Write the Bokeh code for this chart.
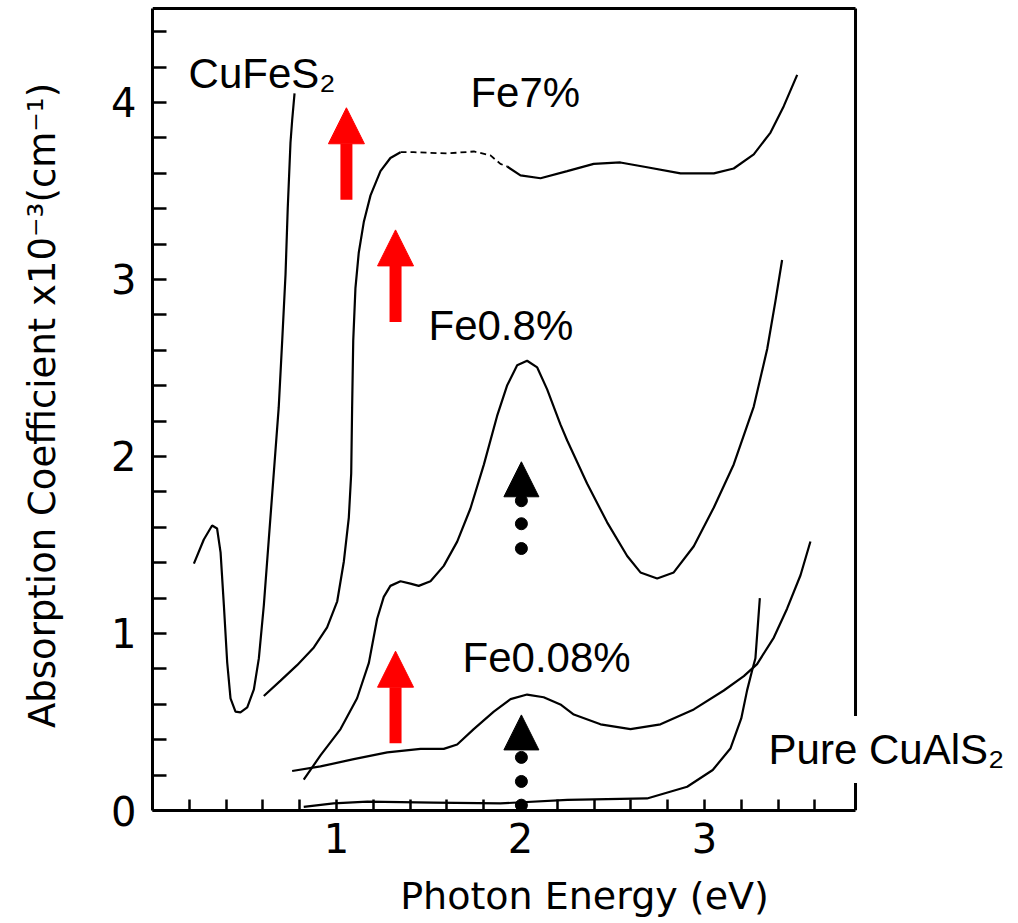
from bokeh.plotting import figure
from bokeh.models import Range1d, FixedTicker, Label, Arrow, NormalHead
from bokeh.embed import file_html
from bokeh.resources import INLINE

# ---- data ----
cufes2_x = [0.225, 0.279, 0.324, 0.351, 0.370, 0.388, 0.406, 0.424, 0.451, 0.478, 0.515, 0.551,
            0.578, 0.605, 0.632, 0.659, 0.686, 0.705, 0.723, 0.735, 0.750, 0.759, 0.772]
cufes2_y = [1.395, 1.531, 1.610, 1.593, 1.458, 1.158, 0.836, 0.633, 0.559, 0.554, 0.582, 0.684,
            0.859, 1.158, 1.531, 1.904, 2.277, 2.655, 3.028, 3.401, 3.774, 3.898, 4.051]

fe7_x = [0.605, 0.696, 0.786, 0.877, 0.949, 1.004, 1.040, 1.067, 1.080, 1.085, 1.091, 1.103,
         1.121, 1.149, 1.185, 1.239, 1.293, 1.348]
fe7_y = [0.647, 0.734, 0.821, 0.921, 1.034, 1.182, 1.407, 1.655, 1.904, 2.277, 2.653, 2.951,
         3.151, 3.328, 3.475, 3.612, 3.686, 3.719]
fe7_dash_x = [1.348, 1.420, 1.601, 1.747, 1.837, 1.891, 1.928]
fe7_dash_y = [3.719, 3.719, 3.712, 3.723, 3.701, 3.653, 3.638]
fe7_hi_x = [1.928, 2.0, 2.109, 2.254, 2.398, 2.543, 2.688, 2.870, 3.051, 3.159, 3.268, 3.359, 3.431, 3.504]
fe7_hi_y = [3.638, 3.588, 3.572, 3.612, 3.653, 3.661, 3.634, 3.599, 3.599, 3.627, 3.707, 3.830, 3.979, 4.156]

fe08_x = [0.822, 0.913, 1.022, 1.112, 1.176, 1.221, 1.257, 1.293, 1.348, 1.402, 1.447, 1.511,
          1.583, 1.656, 1.728, 1.801, 1.873, 1.928, 1.982, 2.036, 2.091, 2.145, 2.217, 2.254,
          2.362, 2.471, 2.580, 2.652, 2.743, 2.833, 2.942, 3.051, 3.159, 3.268, 3.341, 3.386, 3.422]
fe08_y = [0.175, 0.311, 0.460, 0.634, 0.834, 1.083, 1.207, 1.269, 1.295, 1.282, 1.269, 1.295,
          1.382, 1.519, 1.706, 1.954, 2.229, 2.403, 2.515, 2.541, 2.503, 2.379, 2.181, 2.090,
          1.847, 1.628, 1.438, 1.345, 1.311, 1.345, 1.493, 1.712, 1.955, 2.282, 2.607, 2.879, 3.110]

fe008_x = [0.759, 0.913, 1.094, 1.276, 1.457, 1.583, 1.656, 1.746, 1.855, 1.946, 2.036, 2.126,
           2.217, 2.290, 2.435, 2.598, 2.761, 2.942, 3.105, 3.214, 3.286, 3.377, 3.449, 3.522, 3.576]
fe008_y = [0.223, 0.249, 0.290, 0.328, 0.348, 0.348, 0.373, 0.460, 0.559, 0.629, 0.655, 0.640,
           0.599, 0.542, 0.487, 0.460, 0.487, 0.571, 0.678, 0.759, 0.827, 0.977, 1.140, 1.329, 1.520]

pure_x = [0.822, 0.984, 1.168, 1.527, 1.891, 2.255, 2.688, 2.906, 3.045, 3.141, 3.200, 3.232,
          3.259, 3.277, 3.301]
pure_y = [0.02, 0.04, 0.05, 0.045, 0.04, 0.06, 0.068, 0.134, 0.229, 0.350, 0.52, 0.68,
          0.791, 0.86, 1.20]

x_major = [1, 2, 3]
x_minor = [0.2, 0.4, 0.6, 0.8, 1.2, 1.4, 1.6, 1.8, 2.2, 2.4, 2.6, 2.8, 3.2, 3.4, 3.6]
y_major = [0, 1, 2, 3, 4]
y_minor = [0.2, 0.4, 0.6, 0.8, 1.2, 1.4, 1.6, 1.8, 2.2, 2.4, 2.6, 2.8, 3.2, 3.4, 3.6, 3.8, 4.2, 4.4]

# plotted box (the drawn frame of the original figure)
box_x = [0, 3.821]
box_y = [0, 4.531]

# annotations
red_arrow_x = [1.054, 1.321, 1.321]
red_arrow_tail = [3.45, 2.76, 0.38]
red_arrow_tip = [3.97, 3.28, 0.90]
black_arrow_x = [2.005, 2.005]
black_arrow_tip = [1.97, 0.54]
black_arrow_base = [1.80, 0.345]
dots_x = [2.005, 2.005, 2.005, 2.005, 2.005, 2.005]
dots_y = [1.75, 1.62, 1.48, 0.30, 0.164, 0.03]

labels = ["CuFeS\u2082", "Fe7%", "Fe0.8%", "Fe0.08%"]
labels_x = [0.196, 1.728, 1.500, 1.685]
labels_y = [4.164, 4.056, 2.740, 0.864]

# ---- figure ----
p = figure(width=1016, height=920, output_backend="svg", toolbar_location=None,
           x_range=Range1d(0, 4.696), y_range=Range1d(0, 4.576),
           min_border_left=152, min_border_right=0, min_border_top=0, min_border_bottom=110,
           background_fill_color="white", border_fill_color="white")
p.grid.visible = False
p.outline_line_color = None

p.xaxis.ticker = FixedTicker(ticks=x_major, minor_ticks=x_minor)
p.yaxis.ticker = FixedTicker(ticks=y_major, minor_ticks=y_minor)
p.xaxis.bounds = (box_x[0], box_x[1])
p.yaxis.bounds = (box_y[0], box_y[1])
for ax in (p.xaxis[0], p.yaxis[0]):
    ax.axis_line_color = "black"
    ax.axis_line_width = 3
    ax.major_tick_line_color = "black"
    ax.minor_tick_line_color = "black"
    ax.major_tick_line_width = 2.5
    ax.minor_tick_line_width = 2.5
    ax.major_tick_out = 0
    ax.minor_tick_out = 0
    ax.major_label_text_font = "DejaVu Sans"
    ax.major_label_text_font_size = "40px"
    ax.major_label_text_color = "black"
    ax.axis_label_text_font = "DejaVu Sans"
    ax.axis_label_text_font_style = "normal"
    ax.axis_label_text_color = "black"

p.yaxis.major_tick_in = 14
p.yaxis.minor_tick_in = 14
p.xaxis.major_tick_in = 11
p.xaxis.minor_tick_in = 11
p.yaxis.major_label_standoff = 16
p.xaxis.major_label_standoff = 12
p.yaxis.axis_label = "Absorption Coefficient x10\u207b\u00b3(cm\u207b\u00b9)"
p.yaxis.axis_label_text_font_size = "37px"
p.yaxis.axis_label_standoff = 44
p.xaxis.axis_label = "Photon Energy (eV)"
p.xaxis.axis_label_text_font_size = "38px"
p.xaxis.axis_label_standoff = 18

# frame top and right edges
p.segment(x0=[box_x[0], box_x[1]], y0=[box_y[1], box_y[0]],
          x1=[box_x[1], box_x[1]], y1=[box_y[1], box_y[1]],
          line_color="black", line_width=3)

# ---- curves ----
lw = 2.2
p.line(cufes2_x, cufes2_y, line_color="black", line_width=lw)
p.line(fe7_x, fe7_y, line_color="black", line_width=lw)
p.line(fe7_dash_x, fe7_dash_y, line_color="black", line_width=1.8, line_dash="6 4")
p.line(fe7_hi_x, fe7_hi_y, line_color="black", line_width=lw)
p.line(fe08_x, fe08_y, line_color="black", line_width=lw)
p.line(fe008_x, fe008_y, line_color="black", line_width=lw)
p.line(pure_x, pure_y, line_color="black", line_width=lw)

# ---- arrows ----
for xa, y0, y1 in zip(red_arrow_x, red_arrow_tail, red_arrow_tip):
    p.add_layout(Arrow(x_start=xa, y_start=y0, x_end=xa, y_end=y1,
                       line_color="#ff0000", line_width=12, line_cap="butt",
                       end=NormalHead(size=36, fill_color="#ff0000", line_color="#ff0000")))
for xa, yb, yt in zip(black_arrow_x, black_arrow_base, black_arrow_tip):
    p.add_layout(Arrow(x_start=xa, y_start=yb, x_end=xa, y_end=yt,
                       line_color=None,
                       end=NormalHead(size=35, fill_color="black", line_color="black")))
p.scatter(dots_x, dots_y, size=12, color="black")

# ---- text labels ----
for t, lx, ly in zip(labels, labels_x, labels_y):
    p.add_layout(Label(x=lx, y=ly, text=t, text_font="Liberation Sans", text_font_size="42px",
                       text_color="black", text_baseline="alphabetic", text_align="left"))
p.add_layout(Label(x=3.294, y=0.345, text="Pure CuAlS\u2082", text_font="Liberation Sans",
                   text_font_size="42px", text_color="black", text_baseline="alphabetic",
                   text_align="left", background_fill_color="white", padding=10))

open("out.html", "w").write(file_html(p, INLINE))
